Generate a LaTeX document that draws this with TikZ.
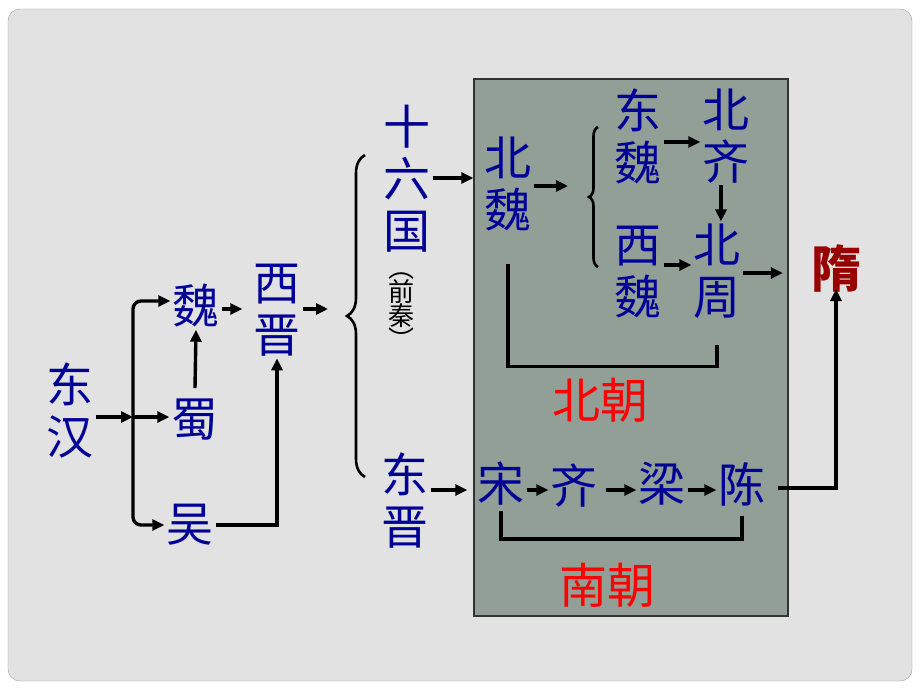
\documentclass[tikz,border=0pt]{standalone}
\usepackage{fontspec}
\newfontfamily\cjk{Noto Sans CJK SC}
\usetikzlibrary{arrows.meta}
\usetikzlibrary{decorations.pathreplacing}
\definecolor{chaoblue}{RGB}{0,0,150}
\definecolor{suired}{RGB}{153,0,0}
\definecolor{slidebg}{RGB}{226,226,226}
\definecolor{slideline}{RGB}{160,160,160}
\definecolor{boxfill}{RGB}{145,159,151}

\begin{document}
\begin{tikzpicture}[x=1pt, y=-1pt,
    dyn/.style={font=\cjk\fontsize{47}{52}\selectfont, text=chaoblue, align=center, inner sep=2pt},
    chao/.style={font=\cjk\fontsize{48}{52}\selectfont, text=red, inner sep=2pt},
    arr/.style={-{Triangle[length=12pt,width=11pt]}, line width=3.4pt},
    bar/.style={line width=3.4pt},
    bracedraw/.style={decorate, line width=2.6pt}]
    % slide background
    \useasboundingbox (0,0) rectangle (920,690);
    \fill[white] (0,0) rectangle (920,690);
    \draw[fill=slidebg, draw=slideline, rounded corners=12pt] (8,9) rectangle (912,681);
    \draw[fill=boxfill, draw=black!80, line width=1.2pt] (474,79) rectangle (788,616);

    % dynasties
    \node[dyn] (dh) at (70,410) {东\\汉};
    \node[dyn] (wei) at (196,306) {魏};
    \node[dyn] (shu) at (195,420) {蜀};
    \node[dyn] (wu) at (190,525) {吴};
    \node[dyn] (xj) at (277,310) {西\\晋};
    \node[dyn] (slg) at (407,179) {十\\六\\国};
    \node[font=\cjk\fontsize{26}{24}\selectfont, align=center, inner sep=0pt] (qq) at (401,311) {︵\\前\\秦\\︶};
    \node[dyn] (dj) at (405,501) {东\\晋};
    \node[dyn] (bw) at (508,184) {北\\魏};
    \node[dyn] (dw) at (638,136) {东\\魏};
    \node[dyn] (bq) at (726,136) {北\\齐};
    \node[dyn] (xw) at (638,272) {西\\魏};
    \node[dyn] (bz) at (717,271) {北\\周};
    \node[dyn] (song) at (501,484) {宋};
    \node[dyn] (qi) at (574,486) {齐};
    \node[dyn] (liang) at (662,484) {梁};
    \node[dyn] (chen) at (742,484) {陈};
    \node[font=\cjk\bfseries\fontsize{50}{52}\selectfont, text=suired, inner sep=2pt] (sui) at (836,268) {隋};
    \node[chao] (bc) at (600,400) {北朝};
    \node[chao] (nc) at (607,585) {南朝};

    \coordinate (br) at (133,417);
    \coordinate (xjend) at (328,309);
    \coordinate (bwend) at (568,186);

    % three kingdoms
    \draw[arr] ([yshift=-7pt]dh.east) -- (br);
    \draw[arr] (br) -- (br -| shu.west);
    \draw[arr, rounded corners=8pt] (br) |- ([yshift=5pt]wei.west);
    \draw[arr, rounded corners=8pt] (br) |- (wu.west);
    \draw[arr] ([yshift=9pt]shu.north) -- (wei.south);
    \draw[arr, shorten >=9pt] ([yshift=-3pt]wei.east) -- ([yshift=-3pt]wei.east -| xj.west);
    \draw[arr] (wu.east) -| (xj.south);
    \draw[arr] (xj.east |- xjend) -- (xjend);

    % braces
    \draw[bracedraw, decoration={brace, amplitude=18pt}] (365,477) -- (365,155);
    \draw[bracedraw, decoration={brace, amplitude=9pt}] (598,267) -- (598,127);

    % north
    \draw[arr, shorten >=9pt] ([yshift=1pt]slg.east) -- ([yshift=1pt]slg.east -| bw.west);
    \draw[arr] (bw.east |- bwend) -- (bwend);
    \draw[arr] ([yshift=-6pt]dw.east) -- ([yshift=-6pt]dw.east -| bq.west);
    \draw[arr] (bq.south -| 721,0) -- (bz.north -| 721,0);
    \draw[arr] ([yshift=7pt]xw.east) -- ([yshift=7pt]xw.east -| bz.west);
    \draw[arr, shorten >=26pt] ([yshift=-2pt]bz.east) -- ([yshift=-2pt]bz.east -| sui.west);
    \draw[bar] ([yshift=-31pt]bw.south) -- ++(0,102) -| ([yshift=-24pt]bz.south);

    % south
    \draw[arr, shorten >=8pt] ([yshift=11pt]dj.east) -- ([yshift=11pt]dj.east -| song.west);
    \draw[arr] ([yshift=-6pt]song.east) -- ([yshift=-6pt]song.east -| qi.west);
    \draw[arr, shorten <=6pt] ([yshift=-4pt]qi.east) -- ([yshift=-4pt]qi.east -| liang.west);
    \draw[arr] ([yshift=-6pt]liang.east) -- ([yshift=-6pt]liang.east -| chen.west);
    \draw[bar] ([yshift=-3pt]song.south) |- ([yshift=-31pt]song.south -| chen.south) -- ([yshift=-8pt]chen.south);
    \draw[arr, shorten <=10pt, shorten >=-5pt] ([yshift=-4pt]chen.east) -| (sui.south);
\end{tikzpicture}
\end{document}
